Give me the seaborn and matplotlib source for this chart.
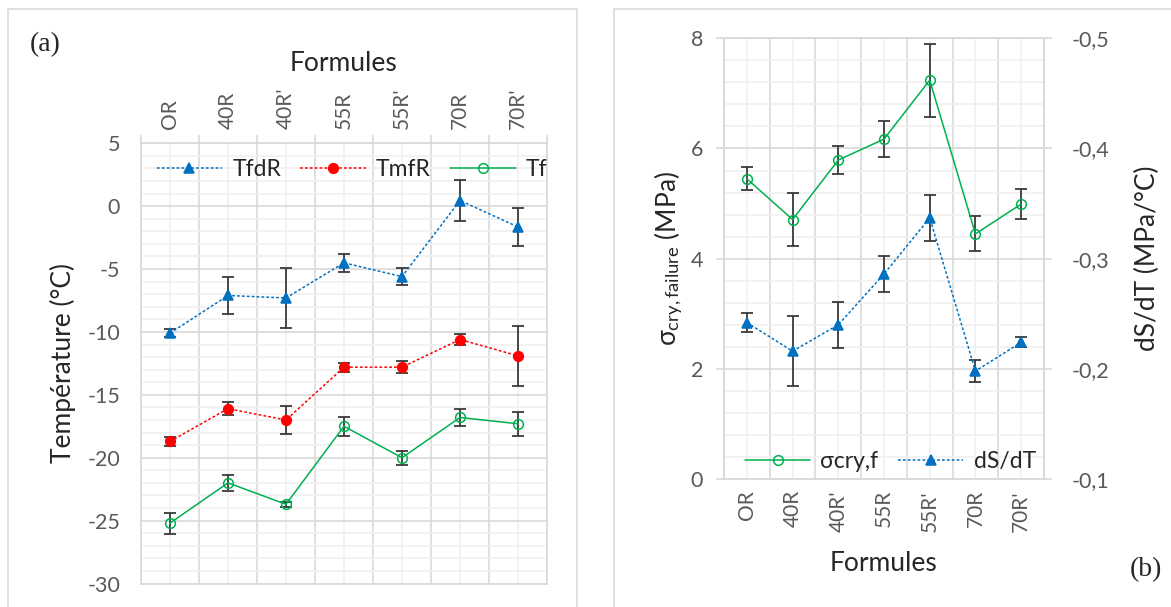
import numpy as np
import matplotlib
matplotlib.use("Agg")
import matplotlib.pyplot as plt
import seaborn as sns
from matplotlib.ticker import MultipleLocator, FuncFormatter, NullFormatter
from matplotlib.patches import Rectangle

formules = ["OR", "40R", "40R'", "55R", "55R'", "70R", "70R'"]

# (a) temperatures (°C) with error bars
tfdr = [-10.1, -7.1, -7.3, -4.5, -5.6, 0.45, -1.65]
tfdr_err = [0.3, 1.5, 2.35, 0.7, 0.68, 1.6, 1.5]
tmfr = [-18.7, -16.1, -17.0, -12.8, -12.8, -10.6, -11.9]
tmfr_err = [0.37, 0.5, 1.1, 0.35, 0.48, 0.42, 2.36]
tf = [-25.2, -22.0, -23.7, -17.5, -20.0, -16.8, -17.3]
tf_err = [0.83, 0.65, 0.2, 0.75, 0.57, 0.65, 0.95]

# (b) stress at failure (MPa) and dS/dT (MPa/°C)
sigma = [5.45, 4.71, 5.79, 6.17, 7.24, 4.45, 4.99]
sigma_err = [0.21, 0.48, 0.25, 0.32, 0.66, 0.32, 0.27]
dsdt = [-0.242, -0.216, -0.24, -0.286, -0.337, -0.198, -0.224]
dsdt_err = [0.0085, 0.032, 0.021, 0.016, 0.021, 0.01, 0.0045]

BLUE = "#0070C0"
RED = "#FF0000"
GREEN = "#00B050"
GRID = "#d9d9d9"
MINOR = "#f0f0f0"
ERR = "#3a3a3a"
TICK = "#595959"

sns.set_style("white")
plt.rcParams['font.family'] = ['Lato', 'DejaVu Sans']
plt.rcParams['axes.unicode_minus'] = False
plt.rcParams['mathtext.fontset'] = 'custom'
plt.rcParams['mathtext.rm'] = 'Lato'
plt.rcParams['mathtext.it'] = 'Lato:italic'

W, H = 1171, 607
fig = plt.figure(figsize=(W / 100, H / 100), dpi=100)


def box(x0, y0, x1, y1):
    return [x0 / W, 1 - y1 / H, (x1 - x0) / W, (y1 - y0) / H]


# panel frames
fig.add_artist(Rectangle((8 / W, -0.1), (577 - 8) / W, 1.1 - 9 / H, transform=fig.transFigure,
                         fill=False, ec=GRID, lw=1.2))
fig.add_artist(Rectangle((614 / W, -0.1), 0.5, 1.1 - 9 / H, transform=fig.transFigure,
                         fill=False, ec=GRID, lw=1.2))

pos = np.arange(len(formules))


def category_axis(ax, xpad):
    ax.set_xlim(-0.5, len(formules) - 0.5)
    ax.set_xticks(np.arange(-0.5, len(formules), 1))
    ax.xaxis.set_major_formatter(NullFormatter())
    ax.set_xticks(pos, labels=formules, minor=True)
    ax.tick_params(axis='x', which='minor', length=0, rotation=90, labelsize=15,
                   labelcolor=TICK, pad=xpad)
    ax.tick_params(axis='x', which='major', length=6, color=GRID, width=1.2)
    ax.tick_params(axis='y', which='major', length=6, color=GRID, width=1.2,
                   labelsize=15.5, labelcolor=TICK, pad=9)
    ax.tick_params(axis='y', which='minor', length=0)
    ax.grid(True, which='minor', color=MINOR, lw=1.2)
    ax.grid(True, which='major', color=GRID, lw=1.2)
    ax.set_axisbelow(True)
    for s in ax.spines.values():
        s.set_color(GRID)
        s.set_linewidth(1.2)


def draw(ax, y, err, color, marker, ls, label, mfc, ms):
    ax.errorbar(pos, y, yerr=err, fmt='none', ecolor=ERR, elinewidth=1.3,
                capsize=4.2, capthick=1.3, zorder=3)
    sns.lineplot(x=pos, y=y, ax=ax, color=color, linestyle=ls, lw=1.1,
                 marker=marker, markersize=ms, markerfacecolor=mfc,
                 markeredgecolor=color, markeredgewidth=1.1, label=label,
                 legend=False, zorder=4)


dotted = (0, (1.8, 1.4))
leg_kw = dict(frameon=False, fontsize=16.5, handlelength=2.85, columnspacing=0.85,
              handletextpad=0.45)

# ---------------- (a)
ax = fig.add_axes(box(141, 143.3, 547, 583.5))
category_axis(ax, 10)
draw(ax, tfdr, tfdr_err, BLUE, '^', dotted, 'TfdR', BLUE, 7)
draw(ax, tmfr, tmfr_err, RED, 'o', dotted, 'TmfR', RED, 7)
draw(ax, tf, tf_err, GREEN, 'o', '-', 'Tf', 'none', 7)
ax.set_ylim(-30, 5)
ax.yaxis.set_major_locator(MultipleLocator(5))
ax.yaxis.set_minor_locator(MultipleLocator(1))
ax.xaxis.tick_top()
ax.tick_params(axis='x', which='both', top=True, bottom=False, labeltop=True, labelbottom=False)
ax.tick_params(axis='x', which='minor', length=0)
ax.xaxis.set_label_position('top')
ax.set_xlabel('Formules', fontsize=19, labelpad=12)
ax.set_ylabel('Température (°C)', fontsize=19, labelpad=8)
h, l = ax.get_legend_handles_labels()
ax.legend(h, l, loc='upper center', bbox_to_anchor=(0.52, 1.0), ncol=3,
          borderaxespad=0.3, **leg_kw)
fig.text(30 / W, 1 - 45 / H, '(a)', fontsize=20, family='Liberation Serif', va='center')

# ---------------- (b)
axr = fig.add_axes(box(724, 38.3, 1044, 479))
category_axis(axr, 8)
draw(axr, sigma, sigma_err, GREEN, 'o', '-', 'σcry,f', 'none', 7)
axr.set_ylim(0, 8)
axr.yaxis.set_major_locator(MultipleLocator(2))
axr.yaxis.set_minor_locator(MultipleLocator(0.4))
axr.set_xlabel('Formules', fontsize=19, labelpad=14)
axr.set_ylabel(r'σ$_{\mathrm{cry,failure}}$ (MPa)', fontsize=19, labelpad=4)

axr2 = axr.twinx()
draw(axr2, dsdt, dsdt_err, BLUE, '^', dotted, 'dS/dT', BLUE, 7)
axr2.set_ylim(-0.1, -0.5)
axr2.set_yticks([-0.5, -0.4, -0.3, -0.2, -0.1])
axr2.yaxis.set_major_formatter(FuncFormatter(lambda v, p: f"{v:.1f}".replace('.', ',')))
axr2.tick_params(axis='y', length=6, color=GRID, width=1.2, labelsize=15.5,
                 labelcolor=TICK, pad=14)
axr2.grid(False)
for s in axr2.spines.values():
    s.set_color(GRID)
    s.set_linewidth(1.2)
axr2.set_ylabel('dS/dT (MPa/°C)', fontsize=19, labelpad=18)
h1, l1 = axr.get_legend_handles_labels()
h2, l2 = axr2.get_legend_handles_labels()
axr2.legend(h1 + h2, l1 + l2, loc='lower center', bbox_to_anchor=(0.52, -0.015), ncol=2,
            borderaxespad=0.2, **leg_kw)
fig.text(1130 / W, 1 - 570 / H, '(b)', fontsize=20, family='Liberation Serif', va='center')

fig.savefig('out.png', dpi=100)
